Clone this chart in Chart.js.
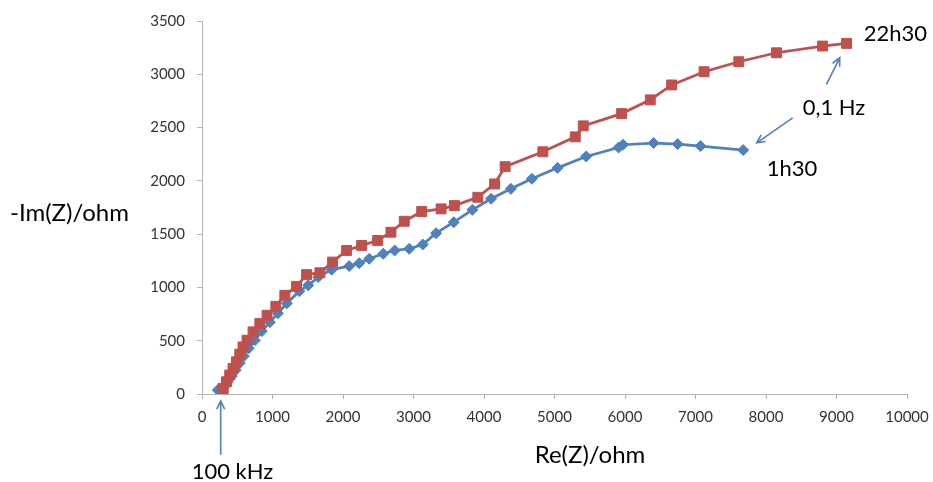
<!DOCTYPE html>
<html>
<head>
<meta charset="utf-8">
<script src="https://cdn.jsdelivr.net/npm/chart.js@4.4.0/dist/chart.umd.min.js"></script>
<style>
  html, body { margin: 0; padding: 0; background: #fff; }
  #wrap { position: relative; width: 933px; height: 482px; }
</style>
</head>
<body>
<div id="wrap"><canvas id="nyquist" width="933" height="482"></canvas></div>
<script>
// Diagramme de Nyquist : Re(Z) et -Im(Z) en ohm (100 kHz -> 0,1 Hz)
var re1h30 = [224, 309, 365, 422, 479, 536, 593, 664, 750, 849, 963, 1076, 1204, 1380, 1506, 1648, 1838, 2088, 2230, 2372, 2571, 2733, 2940, 3131, 3320, 3571, 3835, 4101, 4381, 4679, 5043, 5450, 5909, 5972, 6406, 6747, 7070, 7676];
var im1h30 = [37, 65, 112, 168, 225, 290, 355, 430, 505, 590, 674, 758, 851, 965, 1020, 1097, 1167, 1200, 1228, 1269, 1316, 1347, 1363, 1403, 1509, 1612, 1728, 1832, 1925, 2019, 2122, 2229, 2313, 2339, 2355, 2345, 2326, 2289];

var re22h30 = [298, 298, 347, 393, 440, 489, 536, 582, 639, 724, 820, 923, 1047, 1175, 1341, 1483, 1672, 1852, 2051, 2264, 2491, 2680, 2869, 3116, 3391, 3580, 3912, 4150, 4300, 4835, 5294, 5408, 5952, 6359, 6662, 7122, 7614, 8149, 8803, 9143];
var im22h30 = [22, 53, 115, 178, 240, 302, 374, 442, 505, 583, 661, 739, 823, 926, 1010, 1120, 1138, 1238, 1347, 1394, 1441, 1518, 1621, 1712, 1737, 1768, 1846, 1971, 2133, 2273, 2413, 2516, 2631, 2760, 2900, 3024, 3118, 3202, 3265, 3290];

var xTicks = [0, 1000, 2000, 3000, 4000, 5000, 6000, 7000, 8000, 9000, 10000];
var yTicks = [0, 500, 1000, 1500, 2000, 2500, 3000, 3500];

// Construit les points {x, y} pour Chart.js
function toPoints(xs, ys) {
    var pts = [];
    for (var i = 0; i < xs.length; i++) {
        pts.push({ x: xs[i], y: ys[i] });
    }
    return pts;
}

var BLUE = '#4F81BD';
var RED = '#C0504D';
var FONT = 'Lato, "Open Sans", sans-serif';

// Annotations (positions en unités des axes)
var notes = [
    { text: '22h30', x: 9386, y: 3377 },
    { text: '0,1 Hz', x: 8520, y: 2685 },
    { text: '1h30', x: 8009, y: 2114 },
    { text: '100 kHz', x: -146, y: -730 }
];
var arrows = [
    { x0: 265, y0: -571, x1: 265, y1: -65 },
    { x0: 8857, y0: 2906, x1: 9046, y1: 3155 },
    { x0: 8379, y0: 2591, x1: 7868, y1: 2357 }
];

var labelsPlugin = {
    id: 'labels',
    afterDraw: function (chart) {
        var ctx = chart.ctx;
        var sx = chart.scales.x;
        var sy = chart.scales.y;
        ctx.save();
        ctx.fillStyle = '#000';
        ctx.textBaseline = 'middle';

        // titres des axes
        ctx.font = '24px ' + FONT;
        ctx.textAlign = 'left';
        ctx.fillText('-Im(Z)/ohm', 10, 213);
        ctx.textAlign = 'center';
        ctx.fillText('Re(Z)/ohm', 590, 455);

        // textes
        ctx.font = '22px ' + FONT;
        ctx.textAlign = 'left';
        notes.forEach(function (n) {
            ctx.fillText(n.text, sx.getPixelForValue(n.x), sy.getPixelForValue(n.y));
        });

        // flèches
        ctx.strokeStyle = BLUE;
        ctx.lineWidth = 1.6;
        arrows.forEach(function (a) {
            var x0 = sx.getPixelForValue(a.x0), y0 = sy.getPixelForValue(a.y0);
            var x1 = sx.getPixelForValue(a.x1), y1 = sy.getPixelForValue(a.y1);
            var ang = Math.atan2(y1 - y0, x1 - x0);
            var h = 9;
            ctx.beginPath();
            ctx.moveTo(x0, y0);
            ctx.lineTo(x1, y1);
            ctx.moveTo(x1 - h * Math.cos(ang - 0.45), y1 - h * Math.sin(ang - 0.45));
            ctx.lineTo(x1, y1);
            ctx.lineTo(x1 - h * Math.cos(ang + 0.45), y1 - h * Math.sin(ang + 0.45));
            ctx.stroke();
        });
        ctx.restore();
    }
};

function plainTick(value) {
    return String(value);
}

var nyquistChart = new Chart(document.getElementById('nyquist').getContext('2d'), {
    type: 'scatter',
    data: {
        datasets: [{
            label: '1h30',
            data: toPoints(re1h30, im1h30),
            order: 2,
            showLine: true,
            borderColor: BLUE,
            backgroundColor: BLUE,
            borderWidth: 2.75,
            pointStyle: 'rectRot',
            pointRadius: 5.5,
            pointBorderWidth: 1,
            pointBorderColor: BLUE,
            pointBackgroundColor: BLUE
        }, {
            label: '22h30',
            data: toPoints(re22h30, im22h30),
            order: 1,
            showLine: true,
            borderColor: RED,
            backgroundColor: RED,
            borderWidth: 2.75,
            pointStyle: 'rect',
            pointRadius: 7,
            pointBorderWidth: 1,
            pointBorderColor: RED,
            pointBackgroundColor: RED
        }]
    },
    options: {
        responsive: false,
        animation: false,
        devicePixelRatio: 1,
        layout: { padding: { top: 20, right: 26, left: 0, bottom: 0 } },
        plugins: {
            legend: { display: false },
            tooltip: { enabled: false }
        },
        scales: {
            x: {
                type: 'linear',
                min: 0,
                max: 10000,
                afterBuildTicks: function (scale) {
                    scale.ticks = xTicks.map(function (v) { return { value: v }; });
                },
                afterFit: function (scale) {
                    scale.height = 88;
                    scale.paddingRight = 0;
                },
                grid: { drawOnChartArea: false, drawTicks: true, tickLength: 5, color: '#b3b3b3' },
                border: { color: '#b3b3b3', width: 1 },
                ticks: { color: '#333', font: { family: FONT, size: 15 }, padding: 9, maxRotation: 0, autoSkip: false, callback: plainTick }
            },
            y: {
                type: 'linear',
                min: 0,
                max: 3500,
                afterBuildTicks: function (scale) {
                    scale.ticks = yTicks.map(function (v) { return { value: v }; });
                },
                afterFit: function (scale) { scale.width = 202; },
                grid: { drawOnChartArea: false, drawTicks: true, tickLength: 5, color: '#b3b3b3' },
                border: { color: '#b3b3b3', width: 1 },
                ticks: { color: '#333', font: { family: FONT, size: 15 }, padding: 12, autoSkip: false, callback: plainTick }
            }
        }
    },
    plugins: [labelsPlugin]
});
</script>
</body>
</html>
